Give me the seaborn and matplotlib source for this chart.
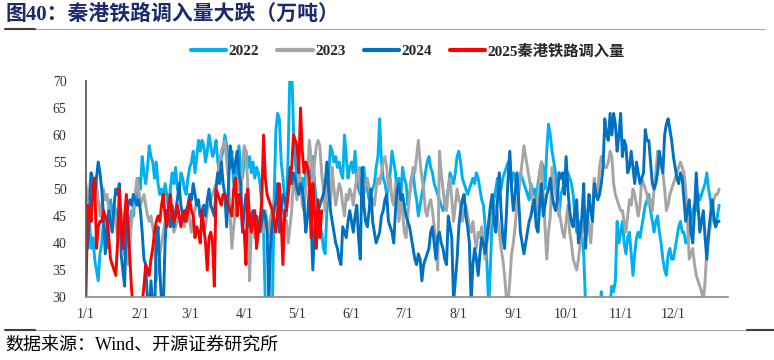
import numpy as np
import pandas as pd
import matplotlib.pyplot as plt
from matplotlib.lines import Line2D
import seaborn as sns

sns.set_theme(style='white')
plt.rcParams['font.family'] = ['Liberation Serif', 'Noto Sans CJK SC', 'DejaVu Sans']

# ─── Data (万吨, daily from 1/1) ─────────────────────────────
month_starts = [0, 31, 59, 90, 120, 151, 181, 212, 243, 273, 304, 334]
month_labels = ['1/1', '2/1', '3/1', '4/1', '5/1', '6/1', '7/1', '8/1', '9/1', '10/1', '11/1', '12/1']

y2022 = [45, 42, 44, 39, 41, 37, 35, 33, 38, 40,
         44, 41, 39, 42, 48, 45, 47, 46, 44, 43,
         45, 40, 38, 37, 41, 44, 46, 45, 49, 48,
         52, 50, 56, 53, 51, 54, 58, 56, 55, 52,
         55, 51, 49, 50, 48, 51, 49, 46, 50, 53,
         51, 54, 50, 49, 53, 52, 50, 49, 52, 54,
         55, 57, 53, 56, 59, 57, 59, 58, 55, 57,
         60, 58, 56, 57, 59, 55, 53, 56, 57, 60,
         58, 55, 54, 57, 51, 50, 55, 58, 54, 52,
         55, 57, 54, 56, 53, 55, 52, 54, 53, 51,
         47, 42, 29, 26, 25, 27, 28, 48, 61, 64,
         63, 55, 52, 48, 45, 57, 72, 73, 61, 55,
         52, 53, 51, 52, 50, 53, 55, 52, 53, 56,
         51, 48, 46, 43, 42, 39, 38, 46, 52, 58,
         57, 55, 56, 54, 55, 53, 52, 60, 56, 52,
         54, 55, 53, 57, 52, 50, 49, 52, 54, 51,
         50, 48, 49, 50, 51, 54, 56, 63, 55, 52,
         51, 49, 50, 53, 57, 55, 53, 49, 52, 48,
         54, 52, 51, 47, 49, 52, 53, 50, 48, 45,
         47, 49, 51, 53, 55, 56, 54, 53, 51, 50,
         49, 48, 47, 46, 47, 48, 50, 53, 52, 51,
         53, 56, 57, 55, 52, 51, 50, 49, 50, 51,
         52, 51, 53, 52, 50, 48, 47, 43, 36, 28,
         36, 45, 48, 50, 52, 51, 50, 52, 53, 54,
         55, 53, 51, 53, 52, 50, 51, 53, 52, 51,
         50, 49, 48, 51, 49, 50, 48, 51, 53, 55,
         54, 50, 57, 62, 60, 57, 55, 53, 49, 45,
         49, 50, 51, 52, 53, 52, 51, 49, 45, 42,
         44, 43, 41, 38, 29, 27, 26, 28, 27, 25,
         26, 28, 27, 31, 28, 26, 27, 28, 29, 32,
         31, 33, 44, 40, 42, 44, 40, 38, 41, 42,
         38, 34, 38, 41, 42, 41, 43, 45, 47, 48,
         49, 46, 44, 42, 44, 45, 42, 40, 37, 35,
         34, 38, 39, 37, 37, 39, 41, 43, 44, 42,
         42, 40, 40, 43, 44, 46, 47, 46, 49, 48,
         49, 50, 51, 53, 50, 48, 45, 44, 43, 45,
         47]

y2023 = [51, 48, 50, 53, 52, 52, 51, 48, 45, 47,
         50, 48, 49, 46, 43, 45, 47, 44, 41, 44,
         46, 43, 42, 39, 36, 40, 44, 47, 49, 52,
         50, 47, 48, 49, 47, 45, 44, 45, 43, 41,
         33, 35, 38, 40, 42, 44, 46, 45, 46, 44,
         42, 43, 44, 45, 45, 44, 43, 46, 47, 44,
         42, 45, 46, 48, 47, 45, 44, 42, 43, 46,
         47, 48, 49, 50, 51, 53, 55, 57, 58, 59,
         55, 52, 45, 39, 43, 46, 50, 52, 49, 54,
         58, 57, 51, 33, 42, 44, 41, 42, 43, 45,
         44, 42, 46, 44, 41, 45, 46, 48, 47, 49,
         46, 47, 46, 45, 44, 40, 43, 46, 52, 50,
         48, 54, 51, 47, 46, 50, 52, 59, 56, 51,
         55, 58, 59, 58, 53, 50, 46, 51, 48, 47,
         54, 50, 47, 49, 51, 50, 47, 45, 49, 48,
         50, 49, 47, 50, 52, 54, 50, 48, 49, 51,
         52, 50, 49, 48, 47, 50, 52, 51, 53, 55,
         56, 54, 50, 52, 48, 47, 51, 50, 44, 48,
         46, 42, 41, 45, 49, 51, 54, 53, 56, 59,
         55, 52, 50, 46, 45, 47, 48, 46, 43, 40,
         35, 57, 53, 50, 47, 46, 50, 52, 48, 44,
         47, 50, 48, 47, 44, 46, 47, 45, 43, 42,
         44, 41, 39, 42, 41, 43, 40, 37, 40, 42,
         44, 45, 46, 47, 45, 42, 39, 37, 34, 30,
         29, 33, 38, 40, 43, 47, 49, 52, 55, 58,
         56, 54, 52, 50, 48, 46, 45, 49, 53, 55,
         49, 43, 37, 42, 45, 54, 51, 49, 48, 46,
         44, 42, 41, 44, 47, 42, 40, 37, 36, 35,
         37, 40, 42, 44, 45, 46, 43, 40, 45, 52,
         50, 49, 54, 56, 55, 54, 54, 55, 57, 56,
         51, 49, 48, 47, 46, 46, 44, 42, 45, 48,
         47, 50, 49, 47, 45, 47, 52, 51, 50, 49,
         47, 48, 46, 50, 53, 57, 55, 54, 53, 50,
         46, 47, 49, 50, 51, 52, 53, 54, 55, 54,
         53, 50, 44, 37, 38, 39, 36, 34, 33, 32,
         31, 29, 33, 39, 41, 43, 46, 48, 49, 49,
         50]

y2024 = [48, 39, 46, 53, 50, 49, 52, 55, 53, 50,
         45, 38, 42, 46, 44, 42, 47, 50, 49, 51,
         38, 35, 32, 45, 47, 48, 47, 49, 48, 47,
         48, 46, 42, 37, 36, 29, 27, 33, 28, 26,
         40, 43, 35, 29, 28, 40, 46, 45, 43, 47,
         43, 46, 48, 51, 47, 45, 44, 46, 47, 49,
         48, 51, 49, 47, 48, 45, 46, 47, 45, 48,
         50, 47, 46, 45, 50, 53, 51, 55, 51, 49,
         43, 50, 58, 55, 53, 55, 57, 53, 51, 42,
         46, 49, 45, 43, 45, 46, 44, 45, 43, 42,
         44, 46, 45, 42, 29, 40, 44, 46, 48, 51,
         42, 46, 49, 48, 47, 50, 54, 51, 53, 52,
         50, 49, 51, 50, 47, 42, 45, 50, 44, 35,
         43, 45, 46, 47, 48, 49, 51, 55, 50, 46,
         44, 42, 40, 39, 37, 36, 43, 42, 41, 44,
         46, 44, 42, 45, 47, 41, 37, 54, 47, 44,
         43, 46, 50, 44, 42, 40, 41, 42, 45, 46,
         48, 49, 44, 43, 42, 40, 46, 50, 51, 48,
         49, 47, 45, 44, 43, 41, 39, 37, 36, 38,
         37, 33, 36, 37, 38, 39, 42, 43, 40, 37,
         41, 42, 40, 39, 37, 36, 45, 43, 41, 29,
         33, 37, 43, 46, 48, 49, 45, 43, 40, 29,
         36, 39, 37, 34, 38, 41, 40, 38, 41, 44,
         47, 49, 44, 42, 48, 53, 46, 41, 39, 45,
         52, 57, 50, 46, 49, 53, 48, 42, 40, 38,
         40, 42, 44, 45, 47, 48, 43, 42, 47, 51,
         45, 47, 49, 50, 52, 49, 47, 46, 48, 53,
         52, 53, 49, 56, 50, 46, 44, 43, 46, 48,
         40, 42, 45, 51, 39, 44, 49, 46, 44, 51,
         49, 48, 49, 51, 54, 63, 60, 59, 64, 60,
         64, 62, 57, 60, 64, 56, 59, 58, 53, 54,
         57, 54, 51, 55, 53, 51, 52, 53, 61, 59,
         59, 55, 51, 50, 51, 53, 57, 55, 53, 60,
         62, 63, 61, 59, 56, 54, 52, 51, 53, 52,
         48, 44, 46, 48, 42, 40, 46, 53, 47, 42,
         44, 46, 41, 37, 42, 45, 48, 45, 43, 44,
         44]

y2025 = [30, 47, 46, 44, 50, 52, 39, 43, 44, 44,
         46, 45, 44, 41, 37, 36, 35, 34, 40, 50,
         44, 39, 45, 49, 43, 37, 31, 28, 27, 26,
         28, 27, 29, 32, 36, 35, 34, 37, 39, 42,
         44, 45, 44, 47, 49, 45, 43, 47, 49, 45,
         44, 45, 47, 45, 43, 45, 46, 44, 46, 48,
         46, 45, 41, 43, 42, 40, 46, 43, 40, 35,
         41, 42, 40, 32, 50, 49, 48, 47, 49, 49,
         48, 47, 46, 45, 50, 52, 45, 49, 48, 43,
         42, 36, 50, 45, 42, 44, 46, 39, 42, 44,
         48, 60, 52, 49, 48, 47, 46, 44, 42, 46,
         51, 44, 36, 46, 46, 49, 52, 54, 60, 59,
         58, 53, 65, 57, 53, 55, 54, 52, 41, 51,
         46, 39, 48, 41, 46]

series = {'2022': y2022, '2023': y2023, '2024': y2024, '2025秦港铁路调入量': y2025}
colors = {'2022': '#00B0F0', '2023': '#A5A5A5', '2024': '#0070C0', '2025秦港铁路调入量': '#FF0000'}

df = pd.concat([pd.DataFrame({'day': np.arange(len(v)), 'value': v, 'year': k})
                for k, v in series.items()], ignore_index=True)

# ─── Plot ────────────────────────────────────────────────────
fig = plt.figure(figsize=(7.74, 3.6), dpi=100)
ax = fig.add_axes([0.111, 0.175, 0.8295, 0.6])

sns.lineplot(data=df, x='day', y='value', hue='year', hue_order=list(series),
             palette=colors, linewidth=2.1, estimator=None, sort=False,
             legend=False, ax=ax)

ax.set_xlim(0, 365)
ax.set_ylim(30, 70)
ax.set_yticks(range(30, 71, 5))
ax.set_xticks(month_starts + [365])
ax.set_xticklabels(month_labels + [''])
ax.set_xlabel('')
ax.set_ylabel('')
ax.tick_params(axis='both', direction='in', length=3, labelsize=10,
               colors='#7F7F7F', labelcolor='#333333')
ax.tick_params(axis='y', pad=14)
ax.tick_params(axis='x', pad=8)
for s in ['top', 'right']:
    ax.spines[s].set_visible(False)
ax.spines['left'].set_color('#595959')
ax.spines['bottom'].set_color('#8C8C8C')
ax.grid(False)

handles = [Line2D([], [], color=colors[k], lw=3) for k in series]
fig.legend(handles, list(series), loc='center', bbox_to_anchor=(0.527, 0.858),
           ncol=4, frameon=False, handlelength=2.3, handletextpad=0.15,
           columnspacing=1.2, prop={'weight': 'bold', 'size': 11})

# title and source
fig.text(0.0065, 0.955, '图40：秦港铁路调入量大跌（万吨）', fontsize=15,
         fontweight='bold', color='#1B2A6B', va='center', ha='left')
fig.add_artist(Line2D([0.0065, 0.988], [0.919, 0.919], color='#A6A6A6', lw=0.8))
fig.add_artist(Line2D([0.0065, 0.045], [0.919, 0.919], color='#404040', lw=1.5))
fig.add_artist(Line2D([0.0065, 1.0], [0.083, 0.083], color='#A6A6A6', lw=0.8))
fig.add_artist(Line2D([0.0065, 0.045], [0.083, 0.083], color='#404040', lw=1.5))
fig.add_artist(Line2D([0.965, 1.0], [0.083, 0.083], color='#404040', lw=1.5))
fig.text(0.0065, 0.042, '数据来源：Wind、开源证券研究所', fontsize=13,
         color='#000000', va='center', ha='left')

fig.savefig('out.png', dpi=100)
